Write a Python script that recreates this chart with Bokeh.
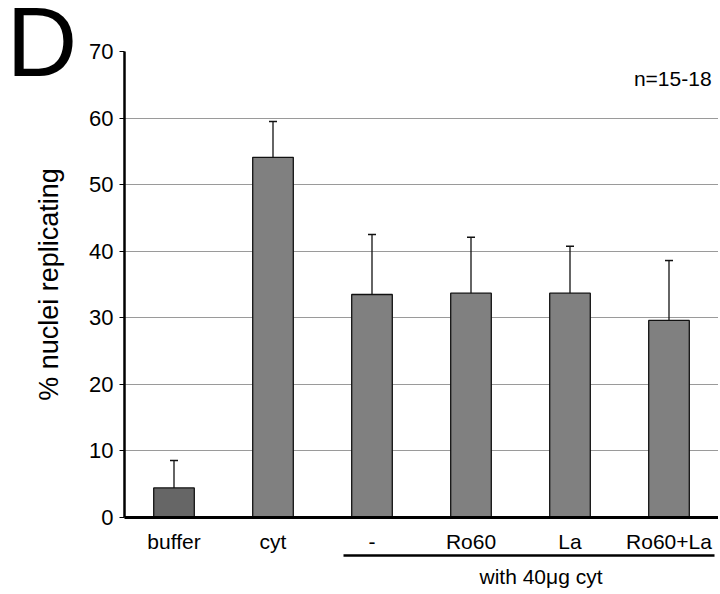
from bokeh.plotting import figure
from bokeh.models import (ColumnDataSource, Range1d, Label, Whisker, TeeHead,
                          FixedTicker, LinearAxis, Title)
from bokeh.embed import file_html
from bokeh.resources import INLINE

categories = ["buffer", "cyt", "-", "Ro60", "La", "Ro60+La"]
values = [4.45, 54.1, 33.5, 33.7, 33.7, 29.6]
errors = [4.1, 5.4, 9.0, 8.4, 7.05, 9.0]
colors = ["#666666", "#808080", "#808080", "#808080", "#808080", "#808080"]
y_ticks = [0, 10, 20, 30, 40, 50, 60, 70]
group_label = "with 40\u03bcg cyt"
group_span = (2.21, 5.96)
panel_letter = "D"
n_label = "n=15-18"

FONT = "Liberation Sans"

xpos = [i + 0.5 for i in range(len(categories))]
src = ColumnDataSource(dict(
    x=xpos, top=values,
    upper=[v + e for v, e in zip(values, errors)],
    color=colors,
))

p = figure(x_range=Range1d(0, len(categories)),
           y_range=Range1d(0, 70),
           frame_width=594, frame_height=466,
           min_border_left=124, min_border_right=0,
           min_border_top=51, min_border_bottom=10,
           output_backend="svg", toolbar_location=None)
p.outline_line_color = None
p.background_fill_color = "white"

p.vbar(x="x", top="top", width=0.41, source=src, fill_color="color",
       line_color="#111111", line_width=1.3)

wh = Whisker(base="x", lower="top", upper="upper", source=src,
             lower_head=None, upper_head=TeeHead(size=8, line_color="#111111", line_width=1.5),
             line_color="#111111", line_width=1.3)
p.add_layout(wh)

# axes
p.yaxis.ticker = FixedTicker(ticks=y_ticks)
p.yaxis.axis_line_width = 2.5
p.yaxis.axis_line_color = "black"
p.yaxis.major_tick_out = 5
p.yaxis.major_tick_in = 0
p.yaxis.minor_tick_out = 0
p.yaxis.minor_tick_in = 0
p.yaxis.major_label_standoff = 6
p.yaxis.major_label_text_font = FONT
p.yaxis.major_label_text_font_size = "22px"
p.yaxis.major_label_text_color = "black"
p.yaxis.axis_label = "% nuclei replicating"
p.yaxis.axis_label_text_font = FONT
p.yaxis.axis_label_text_font_size = "27px"
p.yaxis.axis_label_text_font_style = "normal"
p.yaxis.axis_label_text_color = "black"
p.yaxis.axis_label_standoff = 22

p.xaxis.ticker = FixedTicker(ticks=xpos)
p.xaxis.major_label_overrides = {x: c for x, c in zip(xpos, categories)}
p.xaxis.axis_line_width = 3
p.xaxis.axis_line_color = "black"
p.xaxis.major_tick_out = 0
p.xaxis.major_tick_in = 0
p.xaxis.minor_tick_out = 0
p.xaxis.minor_tick_in = 0
p.xaxis.major_label_standoff = 12
p.xaxis.major_label_text_font = FONT
p.xaxis.major_label_text_font_size = "21px"
p.xaxis.major_label_text_color = "black"

# group underline as a bounded secondary axis
ax2 = LinearAxis(bounds=group_span, ticker=FixedTicker(ticks=[]),
                 major_tick_out=0, major_tick_in=0, minor_tick_out=0, minor_tick_in=0,
                 major_label_text_font_size="0px", axis_line_width=2.5, axis_line_color="black")
p.add_layout(ax2, "below")

p.add_layout(Title(text=group_label, align="left", offset=355, text_font=FONT,
                   text_font_size="21px", text_font_style="normal", text_color="black",
                   standoff=14), "below")

# panel letter in the top border
p.add_layout(Title(text=panel_letter, align="left", offset=-118, vertical_align="bottom",
                   standoff=-90, text_font=FONT, text_font_size="98px",
                   text_font_style="normal", text_color="black"), "above")

p.xgrid.grid_line_color = None
p.ygrid.grid_line_color = "#9a9a9a"
p.ygrid.grid_line_width = 1.2
p.ygrid.ticker = FixedTicker(ticks=y_ticks)

p.add_layout(Label(x=5.93, y=66.0, text=n_label, text_font=FONT, text_font_size="21px",
                   text_color="black", text_baseline="middle", text_align="right"))

open("out.html", "w").write(file_html(p, INLINE))
